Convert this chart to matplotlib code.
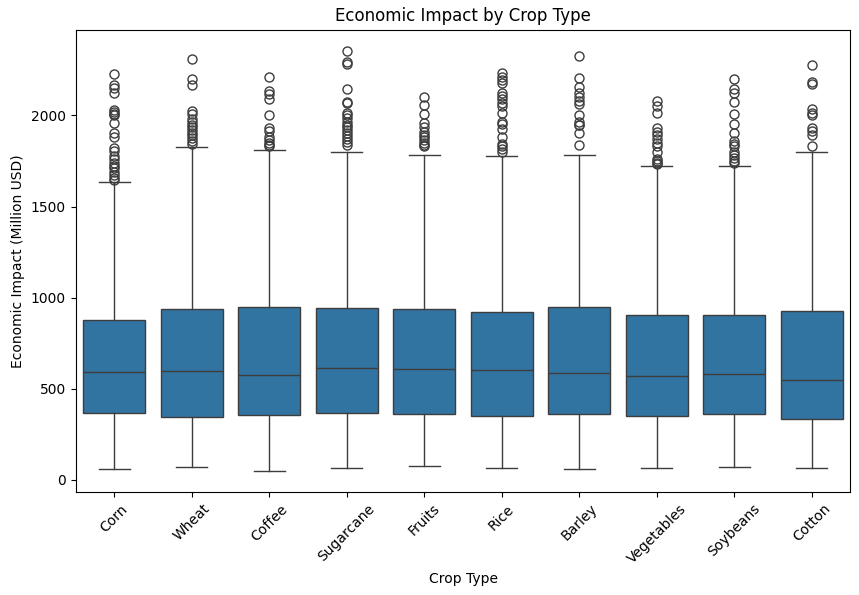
import matplotlib
matplotlib.use("Agg")
import matplotlib.pyplot as plt

# box statistics (Million USD)
crops = ["Corn", "Wheat", "Coffee", "Sugarcane", "Fruits",
         "Rice", "Barley", "Vegetables", "Soybeans", "Cotton"]
q1 = [366, 344, 355, 366, 359, 348, 359, 348, 359, 333]
median = [592, 599, 575, 614, 608, 603, 586, 570, 581, 548]
q3 = [877, 938, 949, 943, 938, 921, 949, 905, 905, 927]
whisker_low = [59, 70, 48, 64, 75, 64, 59, 64, 70, 64]
whisker_high = [1636, 1824, 1808, 1797, 1784, 1775, 1780, 1720, 1720, 1797]
outliers = [
    [2229, 2165, 2150, 2125, 2030, 2020, 2010, 2000, 1960, 1905, 1880, 1820,
     1805, 1775, 1760, 1740, 1725, 1710, 1690, 1675, 1655, 1645],
    [2312, 2200, 2165, 2025, 2010, 1980, 1965, 1950, 1935, 1920, 1905, 1890,
     1875, 1860, 1845],
    [2212, 2134, 2115, 2088, 2002, 1930, 1915, 1880, 1865, 1850, 1840, 1830],
    [2355, 2295, 2280, 2143, 2075, 2068, 2015, 2000, 1985, 1965, 1950, 1935,
     1920, 1905, 1885, 1870, 1855, 1840],
    [2103, 2055, 2005, 1960, 1935, 1910, 1895, 1880, 1865, 1850, 1840, 1832],
    [2231, 2209, 2195, 2180, 2125, 2105, 2090, 2070, 2050, 2015, 1965, 1955,
     1925, 1880, 1845, 1830, 1815, 1800],
    [2324, 2207, 2156, 2125, 2100, 2080, 2060, 2000, 1965, 1950, 1945, 1905,
     1835],
    [2079, 2051, 2015, 1929, 1910, 1890, 1870, 1850, 1830, 1800, 1760, 1750,
     1740, 1732],
    [2202, 2143, 2125, 2073, 2005, 1951, 1905, 1860, 1845, 1830, 1800, 1780,
     1765, 1750, 1740],
    [2275, 2184, 2175, 2037, 2015, 2000, 1930, 1915, 1893, 1831],
]

stats = [
    dict(label=c, q1=a, med=m, q3=b, whislo=lo, whishi=hi, fliers=f)
    for c, a, m, b, lo, hi, f in zip(crops, q1, median, q3,
                                     whisker_low, whisker_high, outliers)
]

fig = plt.figure(figsize=(8.59, 5.95), dpi=100)
ax = fig.add_axes([0.088, 0.173, 0.902, 0.777])

line_col = "#3d3d3d"
lw = 1.0
ax.bxp(
    stats, positions=range(len(crops)), widths=0.8, patch_artist=True,
    boxprops=dict(facecolor="#3274a1", edgecolor=line_col, linewidth=lw),
    medianprops=dict(color=line_col, linewidth=lw),
    whiskerprops=dict(color=line_col, linewidth=lw),
    capprops=dict(color=line_col, linewidth=lw),
    flierprops=dict(marker="o", markerfacecolor="none",
                    markeredgecolor=line_col, markersize=6.5,
                    markeredgewidth=1.0),
    capwidths=0.4,
)

ax.set_xlim(-0.5, len(crops) - 0.5)
ax.set_ylim(-67, 2470)
ax.set_yticks([0, 500, 1000, 1500, 2000])
ax.set_xticks(range(len(crops)))
ax.set_xticklabels(crops, rotation=45)
ax.set_title("Economic Impact by Crop Type")
ax.set_xlabel("Crop Type")
ax.set_ylabel("Economic Impact (Million USD)")

fig.savefig("out.png", dpi=100)
